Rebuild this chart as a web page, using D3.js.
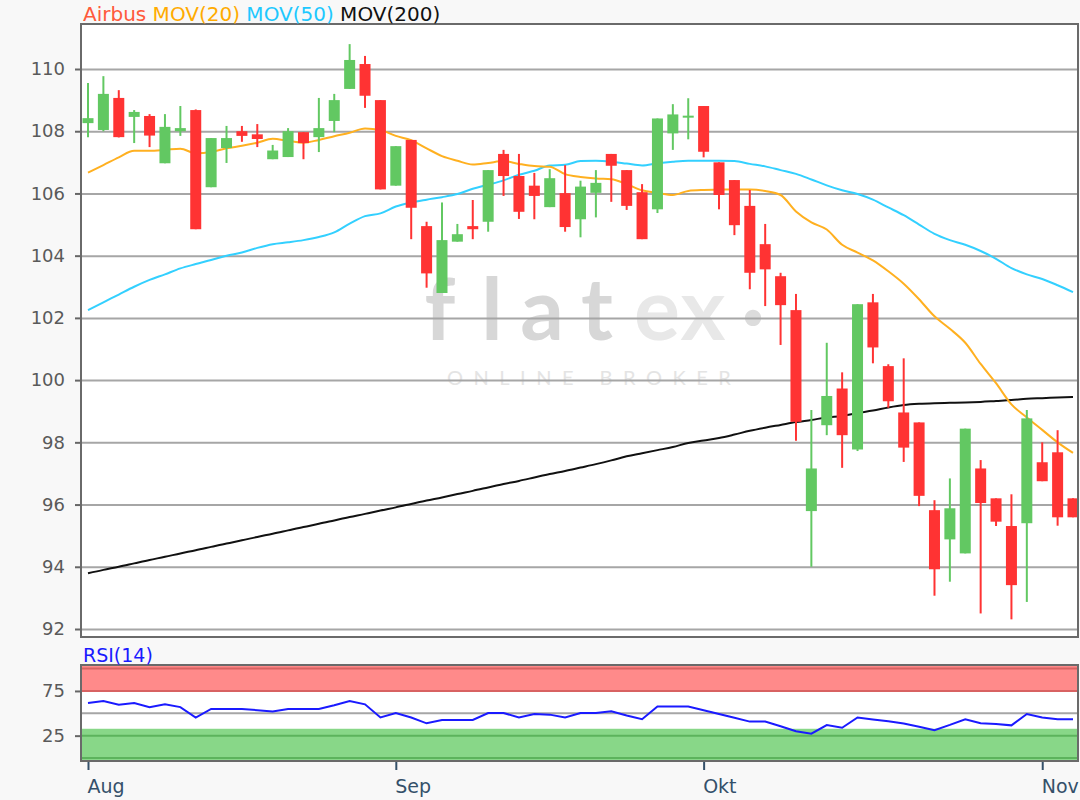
<!DOCTYPE html>
<html>
<head>
<meta charset="utf-8">
<script src="https://cdn.jsdelivr.net/npm/d3@7"></script>
<style>
  body { margin: 0; background: #f8f8f8; }
  svg { display: block; font-family: "DejaVu Sans", sans-serif; }
</style>
</head>
<body>
<div id="chart"></div>
<script>
// ---- data ----
const opens  = [108.26,108.04,109.07,108.46,108.49,106.97,108.0,108.68,106.2,107.46,108.0,107.9,107.1,107.17,107.97,107.81,108.33,109.36,110.16,109.0,106.25,107.72,104.95,102.8,104.45,104.95,105.09,107.27,106.56,106.25,105.56,106.01,105.17,106.02,107.27,106.75,106.04,105.49,107.93,108.45,108.81,107.0,106.43,105.6,104.37,103.34,102.25,95.79,98.55,99.73,97.77,102.5,100.45,98.96,98.64,95.82,94.88,94.43,97.16,96.2,95.31,95.4,97.36,97.68,96.2];
const highs  = [109.55,109.77,109.32,108.68,108.55,108.55,108.81,108.7,107.78,108.17,108.17,108.23,107.56,108.1,107.97,109.07,109.2,110.8,110.42,109.0,107.52,107.72,105.09,105.71,105.02,105.79,106.75,107.4,107.27,106.66,106.78,106.91,106.41,106.75,107.27,106.75,106.3,108.41,108.87,109.06,108.81,107.0,106.43,106.11,105.02,103.45,102.77,99.04,101.2,100.25,102.44,102.77,100.51,100.7,98.64,96.14,96.84,98.44,97.43,96.2,96.33,99.04,98.0,98.39,96.2];
const lows   = [107.81,108.0,107.8,107.62,107.49,106.97,107.85,104.85,106.2,106.98,107.66,107.49,107.1,107.17,107.1,107.33,107.97,109.36,108.75,106.13,106.25,104.53,102.97,102.8,104.45,104.53,104.77,105.92,105.18,105.17,105.56,104.77,104.59,105.23,105.73,105.47,104.53,105.37,107.4,107.74,107.16,105.49,104.66,102.92,102.38,101.13,98.05,94.0,98.23,97.18,97.72,100.54,99.11,97.37,95.95,93.07,93.52,94.43,92.5,95.31,92.31,92.87,96.75,95.32,95.59];
const closes = [108.42,109.2,107.81,108.62,107.86,108.14,108.1,104.85,107.78,107.78,107.85,107.75,107.38,108.0,107.62,108.1,109.0,110.29,109.14,106.13,107.52,105.54,103.43,104.5,104.69,104.85,106.75,106.56,105.41,105.92,106.49,104.92,106.22,106.34,106.89,105.6,104.53,108.41,108.54,108.5,107.34,105.95,104.98,103.45,103.56,102.41,98.66,97.16,99.49,98.23,102.44,101.05,99.32,97.83,96.28,93.92,95.88,98.44,96.05,95.45,93.41,98.77,96.75,95.59,95.59];

const mov20  = [106.67,106.91,107.16,107.37,107.37,107.40,107.44,107.29,107.33,107.45,107.53,107.63,107.76,107.69,107.63,107.72,107.84,107.95,108.09,108.04,107.85,107.71,107.45,107.2,107.05,106.93,106.98,107.04,106.95,106.88,106.86,106.62,106.53,106.48,106.46,106.30,106.10,106.02,105.95,106.08,106.11,106.12,106.13,106.13,106.08,105.95,105.42,105.07,104.84,104.35,104.1,103.85,103.5,103.1,102.6,102.05,101.65,101.2,100.52,99.9,99.22,98.8,98.4,98.0,97.66];
const mov50  = [102.25,102.5,102.75,103.0,103.22,103.4,103.59,103.73,103.86,104.0,104.1,104.25,104.37,104.43,104.5,104.6,104.75,105.03,105.27,105.36,105.58,105.71,105.8,105.88,105.98,106.15,106.28,106.42,106.6,106.73,106.9,106.92,107.04,107.05,107.02,106.96,106.9,106.97,107.02,107.05,107.05,107.05,107.04,106.95,106.87,106.75,106.63,106.45,106.26,106.1,105.98,105.8,105.55,105.3,105.0,104.7,104.5,104.35,104.15,103.9,103.6,103.4,103.25,103.05,102.83];
const mov200 = [93.79,93.9,94.0,94.11,94.22,94.32,94.43,94.53,94.64,94.75,94.85,94.96,95.06,95.17,95.28,95.38,95.49,95.6,95.7,95.81,95.91,96.02,96.13,96.23,96.34,96.44,96.55,96.66,96.76,96.87,96.98,97.08,97.19,97.3,97.42,97.55,97.65,97.75,97.85,97.98,98.06,98.14,98.25,98.37,98.47,98.56,98.65,98.72,98.8,98.85,98.94,99.02,99.12,99.2,99.24,99.26,99.27,99.28,99.3,99.33,99.36,99.4,99.42,99.44,99.46];
const rsi14  = [61.5,63.8,59.6,61.5,56.9,60,56.9,45.3,54.9,54.9,54.9,53.5,51.9,54.9,54.9,54.9,59,63.8,60,45.3,50.3,45.3,38.8,42.6,42.6,42.6,50.3,50.3,45.3,49.2,48.5,45.3,50.3,50.3,52.2,47.5,43.4,57.6,57.6,57.6,53.5,49.2,45,40.7,40.7,35.5,29.9,27.2,36.9,33.8,45.3,43,41,38.6,35,31.1,37,43.4,38.8,38,36.5,49.2,45.3,43.4,43.4];

const priceTicks = [92, 94, 96, 98, 100, 102, 104, 106, 108, 110];
const rsiTicks = [25, 75];
const monthIdx = [0, 20, 40, 62];
const monthLabels = ["Aug", "Sep", "Okt", "Nov"];
const legendItems = [
  { label: "Airbus", color: "#ff5a3c" },
  { label: "MOV(20)", color: "#ffab00" },
  { label: "MOV(50)", color: "#1ec8ff" },
  { label: "MOV(200)", color: "#111111" }
];

const candles = opens.map((o, i) => ({ i, o, h: highs[i], l: lows[i], c: closes[i] }));

// ---- layout ----
const width = 1080, height = 800;
const left = 81, right = 1078;
const priceTop = 24, priceBottom = 637;
const rsiTop = 665, rsiBottom = 761;

const svg = d3.select("#chart").append("svg")
  .attr("width", width)
  .attr("height", height);

const x = d3.scaleLinear()
  .domain([0, candles.length - 1])
  .range([88, 1073]);

const y = d3.scaleLinear()
  .domain([92, 110])
  .range([629, 69]);

const yr = d3.scaleLinear()
  .domain([0, 100])
  .range([758, 668.6]);

// clip paths
const defs = svg.append("defs");
defs.append("clipPath").attr("id", "clipPrice")
  .append("rect").attr("x", left).attr("y", priceTop)
  .attr("width", right - left).attr("height", priceBottom - priceTop);
defs.append("clipPath").attr("id", "clipRsi")
  .append("rect").attr("x", left).attr("y", rsiTop)
  .attr("width", right - left).attr("height", rsiBottom - rsiTop);

// ========= price panel
svg.append("rect")
  .attr("x", left).attr("y", priceTop)
  .attr("width", right - left).attr("height", priceBottom - priceTop)
  .attr("fill", "white");

// watermark (flatex logo as text)
const wm = svg.append("g")
  .attr("font-family", "Lato, 'DejaVu Sans', sans-serif")
  .attr("font-weight", "bold")
  .attr("text-anchor", "middle");
[["f", 440, "#d7d7d7"], ["l", 492, "#d7d7d7"], ["a", 542, "#d7d7d7"], ["t", 597, "#d7d7d7"],
 ["e", 657, "#e8e8e8"], ["x", 703, "#e8e8e8"]].forEach(([ch, cx, col]) => {
  wm.append("text")
    .attr("x", cx).attr("y", 340)
    .attr("font-size", 86)
    .attr("fill", col)
    .text(ch);
});
wm.append("text")
  .attr("x", 753).attr("y", 344)
  .attr("font-size", 86)
  .attr("fill", "#dcdcdc")
  .text("·");
svg.append("text")
  .attr("x", 447).attr("y", 385)
  .attr("font-family", "Lato, 'DejaVu Sans', sans-serif")
  .attr("font-size", 20).attr("letter-spacing", 10.5)
  .attr("fill", "#e4e4e4")
  .text("ONLINE BROKER");

// gridlines
svg.append("g")
  .attr("transform", `translate(${left},0)`)
  .call(d3.axisLeft(y).tickValues(priceTicks).tickSize(-(right - left)).tickFormat(""))
  .call(g => g.select(".domain").remove())
  .call(g => g.selectAll(".tick line").attr("stroke", "#a6a6a6").attr("stroke-width", 2));

// y axis labels
svg.append("g")
  .attr("transform", `translate(${left},0)`)
  .call(d3.axisLeft(y).tickValues(priceTicks).tickSize(6).tickPadding(10))
  .call(g => g.select(".domain").remove())
  .call(g => g.selectAll(".tick line").attr("stroke", "#666").attr("stroke-width", 2))
  .call(g => g.selectAll(".tick text")
    .attr("fill", "#5a5a5a")
    .style("font-size", "18px")
    .style("font-family", "'DejaVu Sans', sans-serif"));

const plot = svg.append("g").attr("clip-path", "url(#clipPrice)");

const line = arr => d3.line()
  .x((d, i) => x(i))
  .y(d => y(d))
  .curve(d3.curveMonotoneX)(arr);

plot.append("path").attr("d", line(mov200))
  .attr("fill", "none").attr("stroke", "#111").attr("stroke-width", 2);
plot.append("path").attr("d", line(mov50))
  .attr("fill", "none").attr("stroke", "#33d0ff").attr("stroke-width", 2);
plot.append("path").attr("d", line(mov20))
  .attr("fill", "none").attr("stroke", "#ffb020").attr("stroke-width", 2);

const upColor = "#62c862", downColor = "#ff3333";
const bodyW = 11;

const candleG = plot.selectAll(".candle")
  .data(candles)
  .enter()
  .append("g")
  .attr("class", "candle");

candleG.append("line")
  .attr("x1", d => x(d.i)).attr("x2", d => x(d.i))
  .attr("y1", d => y(d.h)).attr("y2", d => y(d.l))
  .attr("stroke", d => d.c >= d.o ? upColor : downColor)
  .attr("stroke-width", 2);

candleG.append("rect")
  .attr("x", d => x(d.i) - bodyW / 2)
  .attr("width", bodyW)
  .attr("y", d => y(Math.max(d.o, d.c)))
  .attr("height", d => Math.max(2, Math.abs(y(d.o) - y(d.c))))
  .attr("fill", d => d.c >= d.o ? upColor : downColor);

// frame
svg.append("rect")
  .attr("x", left).attr("y", priceTop)
  .attr("width", right - left).attr("height", priceBottom - priceTop)
  .attr("fill", "none").attr("stroke", "#6a6a6a").attr("stroke-width", 2);

// legend
const legend = svg.append("text")
  .attr("x", 83).attr("y", 21)
  .style("font-size", "20px");
legendItems.forEach((d, k) => {
  legend.append("tspan")
    .attr("fill", d.color)
    .text((k > 0 ? " " : "") + d.label);
});

// ========= RSI panel
svg.append("rect")
  .attr("x", left).attr("y", rsiTop)
  .attr("width", right - left).attr("height", rsiBottom - rsiTop)
  .attr("fill", "white");

const rsiG = svg.append("g").attr("clip-path", "url(#clipRsi)");

rsiG.append("rect")
  .attr("x", left).attr("width", right - left)
  .attr("y", yr(103)).attr("height", yr(74.2) - yr(103))
  .attr("fill", "#ff8a8a");
rsiG.append("rect")
  .attr("x", left).attr("width", right - left)
  .attr("y", yr(32.7)).attr("height", yr(-5) - yr(32.7))
  .attr("fill", "#88d788");

[100, 75].forEach(v => rsiG.append("line")
  .attr("x1", left).attr("x2", right).attr("y1", yr(v)).attr("y2", yr(v))
  .attr("stroke", "#d86262").attr("stroke-width", 2));
[25, 0].forEach(v => rsiG.append("line")
  .attr("x1", left).attr("x2", right).attr("y1", yr(v)).attr("y2", yr(v))
  .attr("stroke", "#5cb35c").attr("stroke-width", 2));
rsiG.append("line")
  .attr("x1", left).attr("x2", right).attr("y1", yr(50)).attr("y2", yr(50))
  .attr("stroke", "#a6a6a6").attr("stroke-width", 2);

rsiG.append("path")
  .attr("d", d3.line().x((d, i) => x(i)).y(d => yr(d))(rsi14))
  .attr("fill", "none").attr("stroke", "#1a1aff").attr("stroke-width", 2);

svg.append("rect")
  .attr("x", left).attr("y", rsiTop)
  .attr("width", right - left).attr("height", rsiBottom - rsiTop)
  .attr("fill", "none").attr("stroke", "#6a6a6a").attr("stroke-width", 2);

svg.append("g")
  .attr("transform", `translate(${left},0)`)
  .call(d3.axisLeft(yr).tickValues(rsiTicks).tickSize(6).tickPadding(10))
  .call(g => g.select(".domain").remove())
  .call(g => g.selectAll(".tick line").attr("stroke", "#666").attr("stroke-width", 2))
  .call(g => g.selectAll(".tick text")
    .attr("fill", "#5a5a5a")
    .style("font-size", "18px")
    .style("font-family", "'DejaVu Sans', sans-serif"));

svg.append("text")
  .attr("x", 83).attr("y", 662)
  .attr("fill", "#1a1aff")
  .style("font-size", "19px")
  .text("RSI(14)");

// ========= month axis
const xAxis = d3.axisBottom(x)
  .tickValues(monthIdx)
  .tickFormat((d, k) => monthLabels[k])
  .tickSize(8)
  .tickPadding(10);

svg.append("g")
  .attr("transform", `translate(0,${rsiBottom + 1})`)
  .call(xAxis)
  .call(g => g.select(".domain").remove())
  .call(g => g.selectAll(".tick line").attr("stroke", "#34506a").attr("stroke-width", 2))
  .call(g => g.selectAll(".tick text")
    .attr("fill", "#34506a")
    .attr("text-anchor", "start")
    .attr("dx", -1)
    .style("font-size", "19px")
    .style("font-family", "'DejaVu Sans', sans-serif"));
</script>
</body>
</html>
